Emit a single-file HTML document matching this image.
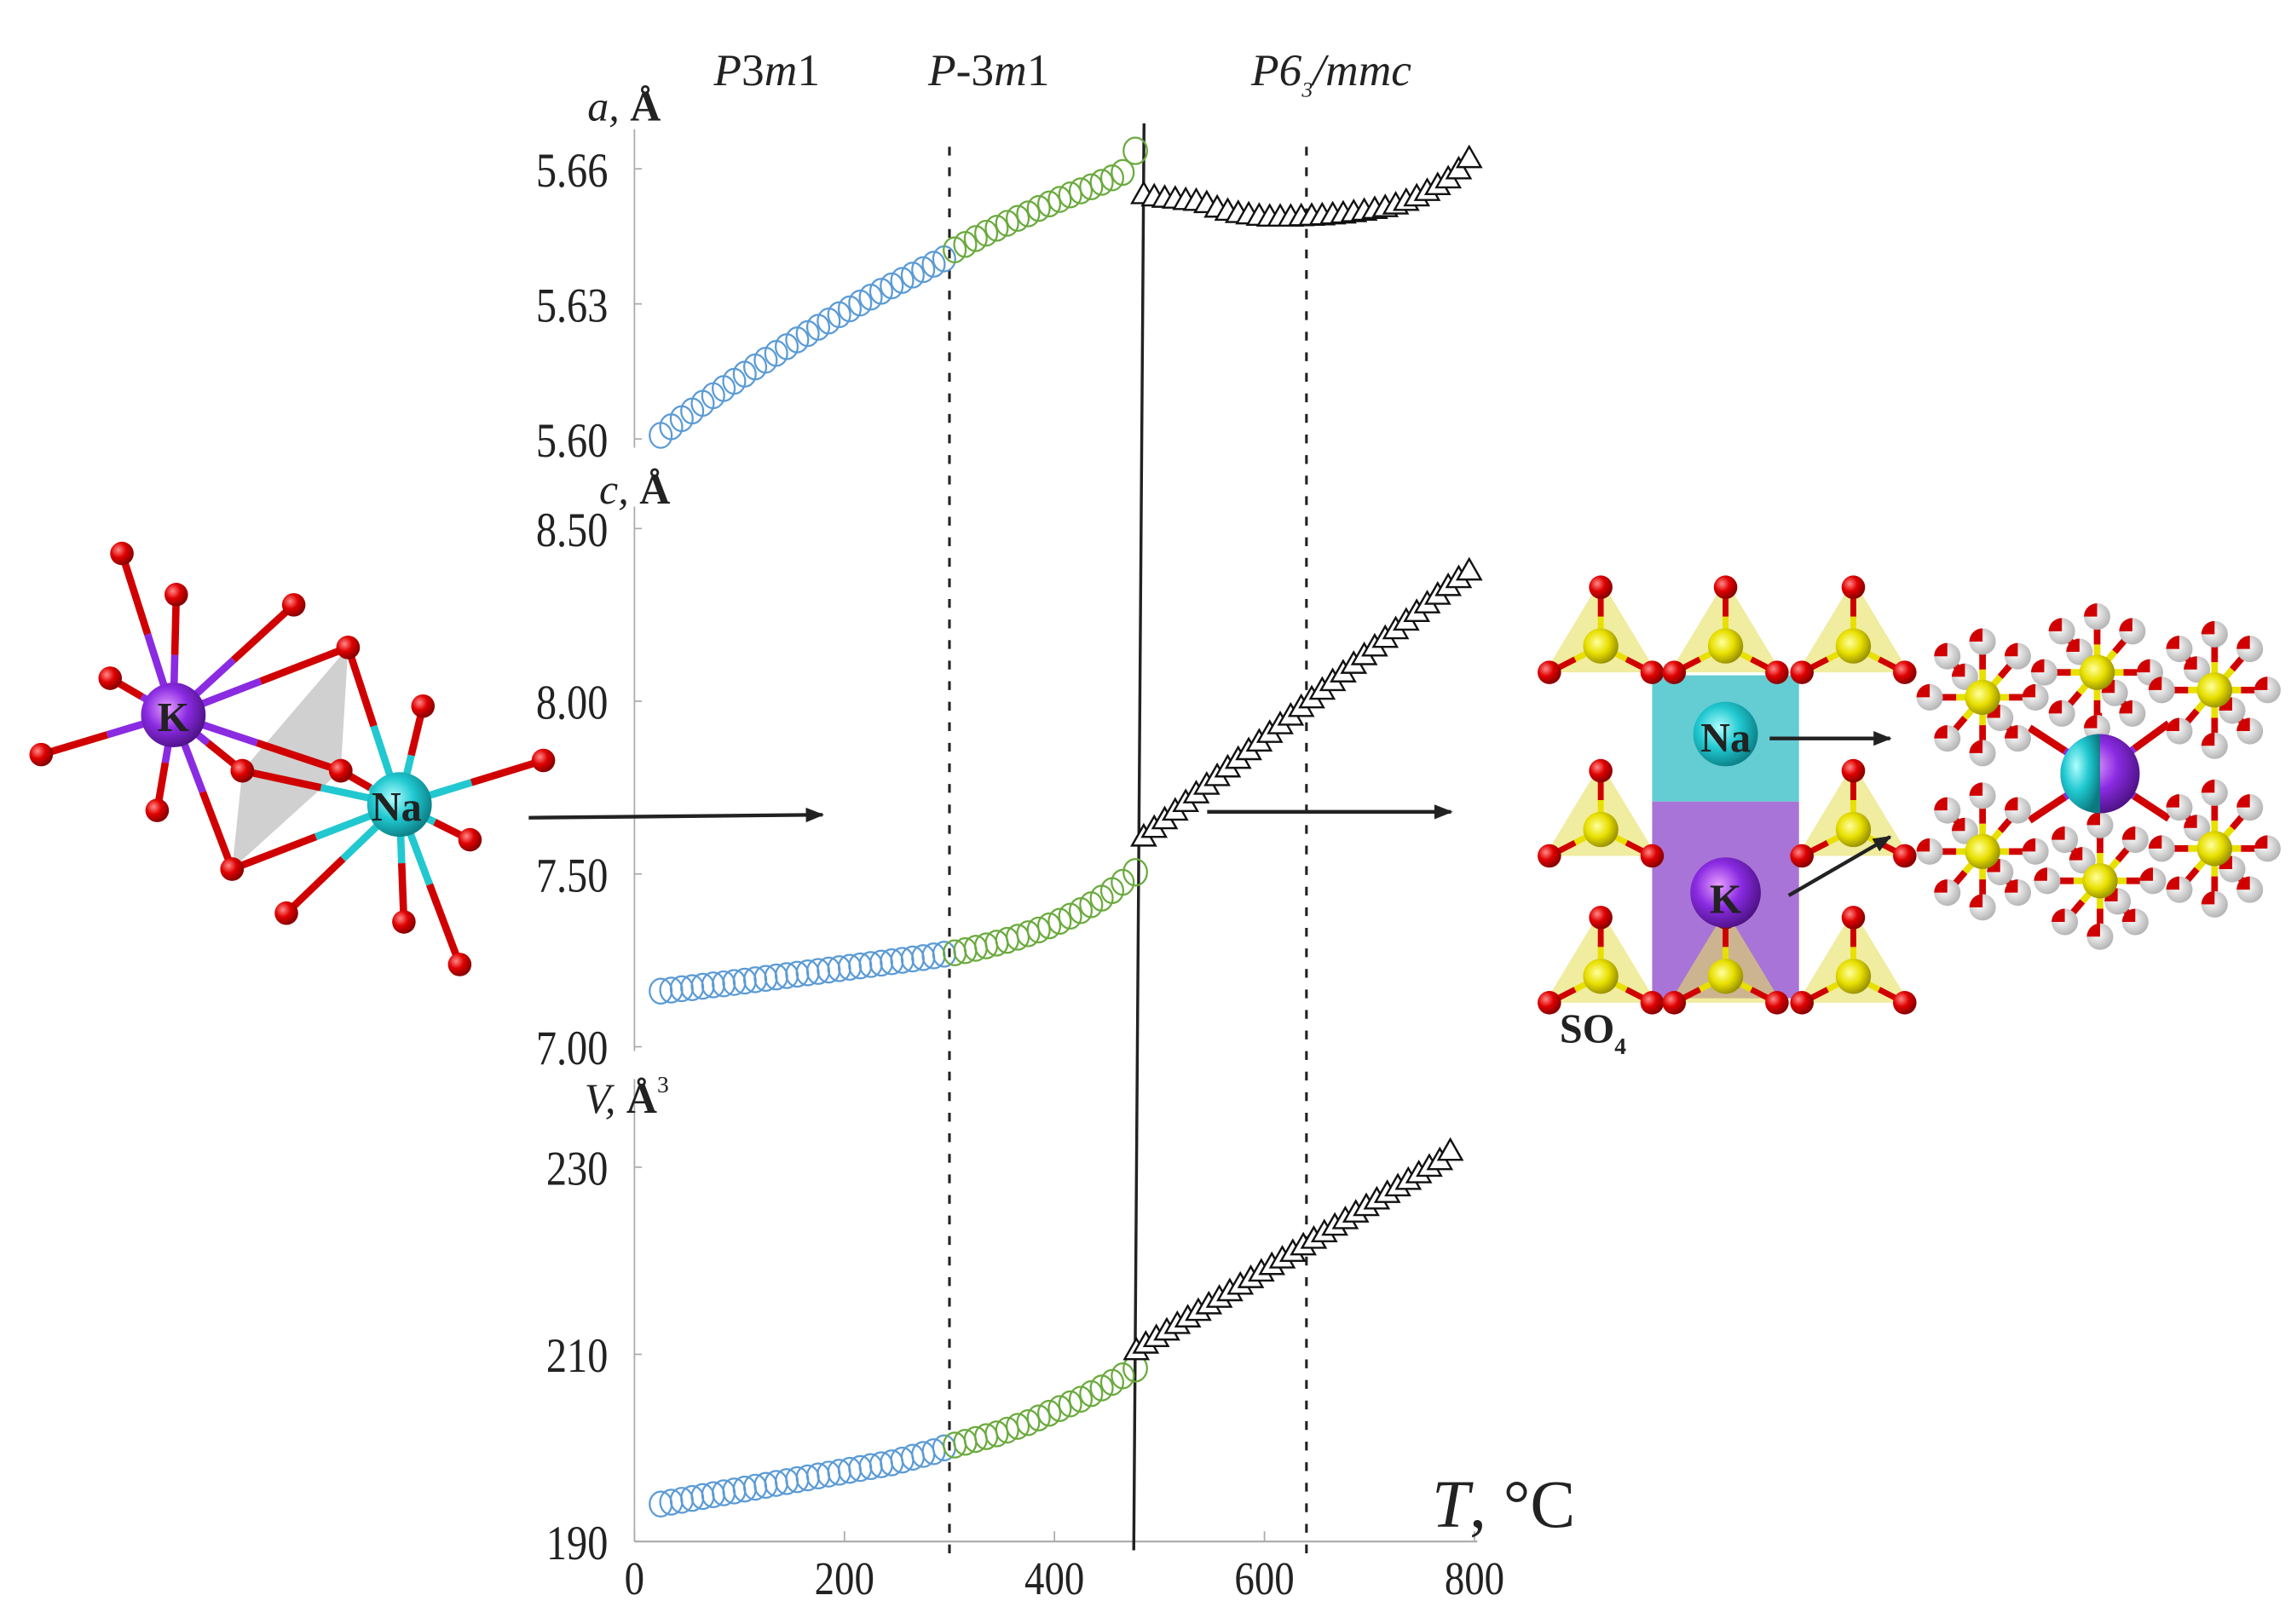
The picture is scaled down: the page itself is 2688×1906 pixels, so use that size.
<!DOCTYPE html>
<html><head><meta charset="utf-8"><style>
html,body{margin:0;padding:0;background:#fff;}
svg{display:block;}
text{font-family:"Liberation Serif",serif;fill:#222;}
</style></head><body>
<svg id="fig" width="2688" height="1906" viewBox="0 0 1560 1106.2" xmlns="http://www.w3.org/2000/svg">
<defs>
<radialGradient id="gO" cx="35%" cy="35%" r="65%"><stop offset="0" stop-color="#ff8a8a"/><stop offset="0.5" stop-color="#e00000"/><stop offset="1" stop-color="#8a0000"/></radialGradient>
<radialGradient id="gK" cx="40%" cy="40%" r="65%"><stop offset="0" stop-color="#e8a0ff"/><stop offset="0.5" stop-color="#8a2be2"/><stop offset="1" stop-color="#4a1080"/></radialGradient>
<radialGradient id="gNa" cx="40%" cy="40%" r="65%"><stop offset="0" stop-color="#b0ffff"/><stop offset="0.5" stop-color="#20c8d0"/><stop offset="1" stop-color="#0a7a80"/></radialGradient>
<radialGradient id="gS" cx="40%" cy="40%" r="65%"><stop offset="0" stop-color="#ffffa0"/><stop offset="0.5" stop-color="#e8e000"/><stop offset="1" stop-color="#908800"/></radialGradient>
<radialGradient id="gW" cx="40%" cy="40%" r="65%"><stop offset="0" stop-color="#ffffff"/><stop offset="1" stop-color="#b0b0b0"/></radialGradient>
<marker id="arr" viewBox="0 0 10 10" refX="9" refY="5" markerWidth="5" markerHeight="5" orient="auto"><path d="M0,1 L10,5 L0,9 z" fill="#222"/></marker>
</defs>
<g id="chart"></g>
<g id="mols"></g>
</svg>
<script>
// ---- data ----
const tBlue = [25,35,45,55,65,75,85,95,105,115,125,135,145,155,165,175,185,195,205,215,225,235,245,255,265,275,285,295];
const tGreen = [305,315,325,335,345,355,365,375,385,395,405,415,425,435,445,455,465,477];
const tTriA = [485,495,505,515,525,535,545,555,565,575,585,595,605,615,625,635,645,655,665,675,685,695,705,715,725,735,745,755,765,775,785,795];
const tTriV = [478,487,497,507,517,527,537,547,557,567,577,587,597,607,617,627,637,647,657,667,677,687,697,707,717,727,737,747,757,767,777];
const aBlue = [5.6008,5.6027,5.6045,5.6062,5.6079,5.6096,5.6112,5.6128,5.6144,5.6160,5.6175,5.6190,5.6205,5.6220,5.6234,5.6248,5.6262,5.6276,5.6289,5.6302,5.6315,5.6328,5.6340,5.6352,5.6364,5.6376,5.6388,5.6400];
const aGreen = [5.6420,5.6432,5.6445,5.6457,5.6468,5.6479,5.6490,5.6500,5.6512,5.6522,5.6532,5.6542,5.6551,5.6560,5.6570,5.6580,5.6592,5.6640];
const aTri = [5.6545,5.6540,5.6537,5.6535,5.6532,5.6530,5.6525,5.6515,5.6508,5.6503,5.6500,5.6497,5.6495,5.6495,5.6495,5.6496,5.6497,5.6498,5.6500,5.6502,5.6505,5.6508,5.6512,5.6516,5.6522,5.6530,5.6540,5.6552,5.6565,5.6580,5.6600,5.6625];
const cBlue = [7.161,7.164,7.168,7.171,7.175,7.179,7.182,7.186,7.190,7.194,7.198,7.202,7.206,7.210,7.214,7.218,7.222,7.226,7.230,7.234,7.238,7.242,7.246,7.250,7.254,7.258,7.263,7.268];
const cGreen = [7.272,7.278,7.285,7.292,7.300,7.308,7.317,7.327,7.338,7.350,7.363,7.378,7.394,7.411,7.430,7.452,7.476,7.505];
const cTri = [7.610,7.635,7.660,7.685,7.710,7.735,7.760,7.785,7.810,7.835,7.860,7.885,7.910,7.935,7.960,7.985,8.010,8.035,8.060,8.085,8.110,8.135,8.160,8.185,8.210,8.235,8.260,8.285,8.310,8.335,8.358,8.380];
const vBlue = [194.0,194.2,194.4,194.6,194.8,195.0,195.2,195.4,195.6,195.8,196.0,196.2,196.4,196.6,196.8,197.0,197.2,197.4,197.6,197.8,198.0,198.2,198.4,198.7,199.0,199.3,199.6,200.0];
const vGreen = [200.3,200.6,200.9,201.2,201.5,201.9,202.3,202.7,203.2,203.7,204.2,204.7,205.2,205.8,206.4,207.0,207.7,208.5];
const vTri = [210.5,211.2,211.9,212.6,213.3,214.0,214.7,215.4,216.1,216.8,217.5,218.2,218.9,219.6,220.3,221.0,221.7,222.4,223.1,223.8,224.5,225.2,225.9,226.6,227.3,228.0,228.7,229.4,230.1,230.8,231.8];
const xTicks = [0,200,400,600,800];
const aTicks = ["5.60","5.63","5.66"];
const cTicks = ["7.00","7.50","8.00","8.50"];
const vTicks = ["190","210","230"];

// ---- axes ----
const NS = "http://www.w3.org/2000/svg";
const X0 = 432, X1 = 1004;
const xS = t => X0 + (X1 - X0) * t / 800;
const yA = v => 299 + (v - 5.60) * (115 - 299) / 0.06;
const yC = v => 713 + (v - 7.0) * (360 - 713) / 1.5;
const yV = v => 1050 + (v - 190) * (795 - 1050) / 40;
const chart = document.getElementById('chart');
function mk(tag, attrs, parent, txt) {
  const e = document.createElementNS(NS, tag);
  for (const k in attrs) e.setAttribute(k, attrs[k]);
  if (txt !== undefined) e.textContent = txt;
  (parent || chart).appendChild(e);
  return e;
}
let ln;
ln = mk('line', {x1: X0, y1: 88, x2: X0, y2: 305, stroke: '#aaa', 'stroke-width': 1});


ln = mk('line', {x1: X0, y1: 345, x2: X0, y2: 716, stroke: '#aaa', 'stroke-width': 1});


ln = mk('line', {x1: X0, y1: 735, x2: X0, y2: 1050, stroke: '#aaa', 'stroke-width': 1});


ln = mk('line', {x1: X0, y1: 1050, x2: 1006, y2: 1050, stroke: '#aaa', 'stroke-width': 1.2});


xTicks.forEach(t => {
  const tk = mk('line', {x1: xS(t), y1: 1050, x2: xS(t), y2: 1043, stroke: '#aaa', 'stroke-width': 1});
  
  
  const tl = mk('text', {x: xS(t), y: 1086, 'font-size': 32, 'text-anchor': 'middle', transform: `translate(${xS(t)*0.15},0) scale(0.85,1)`}, chart, String(t));
  tl.setAttribute('x', xS(t));
  
  
});
function yTicks(list, fn) {
  list.forEach(s => {
    const y = fn(parseFloat(s));
    const tk = mk('line', {x1: X0, y1: y, x2: X0 + 5, y2: y, stroke: '#aaa', 'stroke-width': 1});
    
    
    const xr = X0 - 18;
    const tl = mk('text', {x: xr, y: y + 12, 'font-size': 33, 'text-anchor': 'end', transform: `translate(${xr*0.15},0) scale(0.85,1)`}, chart, s);
    
    
  });
}
yTicks(aTicks, yA); yTicks(cTicks, yC); yTicks(vTicks, yV);
function title(x, y, ital, bold, sup, name) {
  const t = mk('text', {x: x, y: y, 'font-size': 29});
  
  
  mk('tspan', {'font-style': 'italic'}, t, ital);
  mk('tspan', {'font-weight': 'bold'}, t, bold);
  if (sup) mk('tspan', {'font-size': 16, dy: -14}, t, sup);
}
title(400, 82, 'a, ', 'Å', null, 'a-axis-title');
title(408, 343, 'c, ', 'Å', null, 'c-axis-title');
title(398, 758, 'V, ', 'Å', '3', 'v-axis-title');
let tt = mk('text', {x: 975, y: 1040, 'font-size': 46}, chart);


mk('tspan', {'font-style': 'italic'}, tt, 'T');
mk('tspan', {}, tt, ', °C');
function phase(x, parts, name) {
  const t = mk('text', {x: x, y: 58, 'font-size': 31, 'font-style': 'italic'});
  
  
  parts.forEach(p => mk('tspan', p[1], t, p[0]));
}
phase(486, [['P',{}],['3',{'font-style':'normal'}],['m',{}],['1',{'font-style':'normal'}]], 'phase-label-p3m1');
phase(632, [['P',{}],['-3',{'font-style':'normal'}],['m',{}],['1',{'font-style':'normal'}]], 'phase-label-p-3m1');
phase(852, [['P6',{}],['3',{'font-size':15,dy:8}],['/mmc',{dy:-8}]], 'phase-label-p63mmc');
[300, 640].forEach(t => {
  const d = mk('line', {x1: xS(t), y1: 100, x2: xS(t), y2: 1058, stroke: '#222', 'stroke-width': 1.8, 'stroke-dasharray': '6 8'});
  
  
});
ln = mk('line', {x1: 779, y1: 84, x2: 772, y2: 1056, stroke: '#222', 'stroke-width': 2});


function circles(ts, vs, fn, col, r, name) {
  ts.forEach((t, i) => {
    const big = (i === ts.length - 1 && col === '#6aaa3d');
    const c = mk('ellipse', {cx: xS(t), cy: fn(vs[i]), rx: big ? 8 : r, ry: big ? 9 : r + 1, fill: 'none', stroke: col, 'stroke-width': 1.3});
    
    
  });
}
function tris(ts, vs, fn, name) {
  ts.forEach((t, i) => {
    const x = xS(t), y = fn(vs[i]);
    const p = mk('polygon', {points: `${x},${y-7.5} ${x-8},${y+6.5} ${x+8},${y+6.5}`, fill: '#fff', stroke: '#111', 'stroke-width': 1.4});
    
    
  });
}
circles(tBlue, aBlue, yA, '#5b9bd5', 7.5, 'a-p3m1-point');
circles(tGreen, aGreen, yA, '#6aaa3d', 7.5, 'a-p-3m1-point');
tris(tTriA, aTri, yA, 'a-p63mmc-point');
circles(tBlue, cBlue, yC, '#5b9bd5', 7.5, 'c-p3m1-point');
circles(tGreen, cGreen, yC, '#6aaa3d', 7.5, 'c-p-3m1-point');
tris(tTriA, cTri, yC, 'c-p63mmc-point');
circles(tBlue, vBlue, yV, '#5b9bd5', 7.5, 'v-p3m1-point');
circles(tGreen, vGreen, yV, '#6aaa3d', 7.5, 'v-p-3m1-point');
tris(tTriV, vTri, yV, 'v-p63mmc-point');

// ---- molecular illustrations ----
const M = document.getElementById('mols');
function m(tag, attrs, txt) { return mk(tag, attrs, M, txt); }
function bond(x1, y1, x2, y2, c1, c2, w) {
  const mx = (x1 + x2) / 2, my = (y1 + y2) / 2;
  m('line', {x1: x1, y1: y1, x2: mx, y2: my, stroke: c1, 'stroke-width': w || 5});
  m('line', {x1: mx, y1: my, x2: x2, y2: y2, stroke: c2, 'stroke-width': w || 5});
}
function atom(x, y, r, g) { m('circle', {cx: x, cy: y, r: r, fill: 'url(#' + g + ')'}); }
m('polygon', {points: '237,441 232,525 158,592 165,525', fill: '#c8c8c8', opacity: 0.85});
const K = [118, 487], Na = [272, 548];
const kO = [[83,377],[120,405],[200,412],[237,441],[75,462],[28,514],[107,552],[158,592],[232,525],[165,525]];
const naO = [[237,441],[288,481],[370,518],[320,572],[313,657],[275,628],[195,622],[158,592],[232,525],[165,525]];
kO.forEach(o => bond(K[0], K[1], o[0], o[1], '#8a2be2', '#d00000'));
naO.forEach(o => bond(Na[0], Na[1], o[0], o[1], '#22c8d0', '#d00000'));
[...kO, ...naO].forEach(o => atom(o[0], o[1], 8, 'gO'));
atom(K[0], K[1], 22, 'gK'); atom(Na[0], Na[1], 22, 'gNa');
m('text', {x: 118, y: 498, 'font-size': 28, 'font-weight': 'bold', 'text-anchor': 'middle'}, 'K');
m('text', {x: 270, y: 559, 'font-size': 28, 'font-weight': 'bold', 'text-anchor': 'middle'}, 'Na');
m('line', {x1: 360, y1: 557, x2: 560, y2: 555, stroke: '#222', 'stroke-width': 2.5, 'marker-end': 'url(#arr)'});
m('line', {x1: 822, y1: 553, x2: 988, y2: 553, stroke: '#222', 'stroke-width': 2.5, 'marker-end': 'url(#arr)'});
m('rect', {x: 1125, y: 460, width: 100, height: 86, fill: '#3cc0c8', opacity: 0.8});
m('rect', {x: 1125, y: 546, width: 100, height: 134, fill: '#9a5cd0', opacity: 0.85});
const S = [[1090,440],[1175,440],[1262,440],[1090,565],[1262,565],[1090,665],[1175,665],[1262,665]];
S.forEach(s => {
  m('polygon', {points: `${s[0]},${s[1]-45} ${s[0]-38},${s[1]+18} ${s[0]+38},${s[1]+18}`, fill: '#e6e060', opacity: 0.6});
  [[0,-40],[-35,18],[35,18]].forEach(d => { bond(s[0], s[1], s[0]+d[0], s[1]+d[1], '#e8e000', '#d00000', 4); });
});
S.forEach(s => { [[0,-40],[-35,18],[35,18]].forEach(d => atom(s[0]+d[0], s[1]+d[1], 8, 'gO')); atom(s[0], s[1], 12, 'gS'); });
atom(1175, 500, 22, 'gNa'); atom(1175, 608, 24, 'gK');
m('text', {x: 1175, y: 512, 'font-size': 28, 'font-weight': 'bold', 'text-anchor': 'middle'}, 'Na');
m('text', {x: 1175, y: 622, 'font-size': 28, 'font-weight': 'bold', 'text-anchor': 'middle'}, 'K');
const so = m('text', {x: 1062, y: 710, 'font-size': 28, 'font-weight': 'bold'});
mk('tspan', {}, so, 'SO'); mk('tspan', {'font-size': 16, dy: 8}, so, '4');
m('line', {x1: 1205, y1: 503, x2: 1287, y2: 503, stroke: '#222', 'stroke-width': 2.5, 'marker-end': 'url(#arr)'});
m('line', {x1: 1218, y1: 610, x2: 1287, y2: 570, stroke: '#222', 'stroke-width': 2.5, 'marker-end': 'url(#arr)'});
const C = [1430, 527];
const G = [[1350,475],[1428,458],[1508,470],[1350,580],[1430,600],[1508,578]];
G.forEach(g => bond(C[0], C[1], g[0] + (C[0]-g[0])*0.4, g[1] + (C[1]-g[1])*0.4, '#8a2be2', '#d00000', 5));
const offs = [[-36,0],[36,0],[0,-38],[0,38],[-24,-28],[24,-28],[-24,28],[24,28],[-12,-14],[12,14]];
G.forEach(g => {
  offs.forEach(d => bond(g[0], g[1], g[0]+d[0], g[1]+d[1], '#e8e000', '#d00000', 4.5));
  offs.forEach(d => { atom(g[0]+d[0], g[1]+d[1], 9, 'gW'); m('path', {d: `M${g[0]+d[0]-9},${g[1]+d[1]} a9,9 0 0,1 9,-9 v9 z`, fill: '#d00000'}); });
  atom(g[0], g[1], 12, 'gS');
});
m('circle', {cx: C[0], cy: C[1], r: 27, fill: 'url(#gK)'});
m('path', {d: `M${C[0]},${C[1]-27} a27,27 0 0,0 0,54 z`, fill: 'url(#gNa)'});
</script>
</body></html>
